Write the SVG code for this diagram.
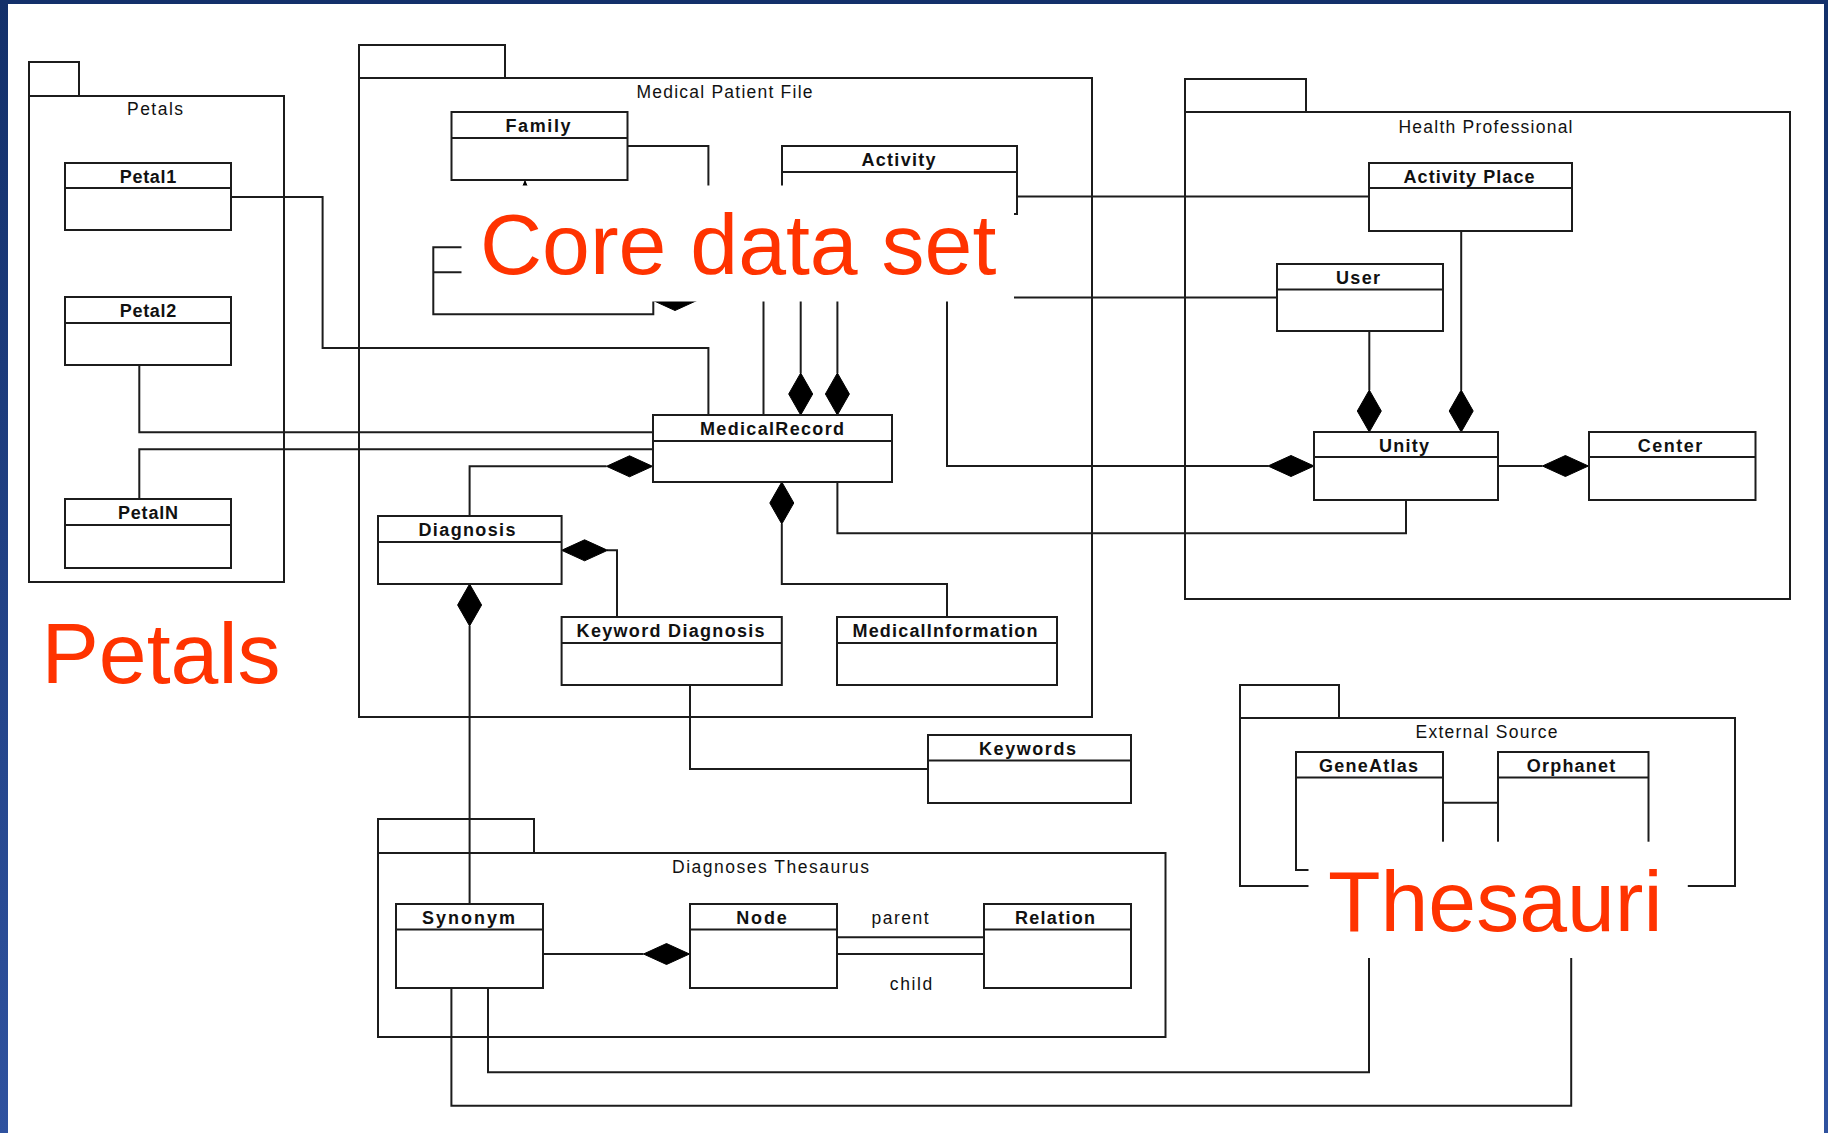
<svg xmlns="http://www.w3.org/2000/svg" xmlns:xlink="http://www.w3.org/1999/xlink" width="1828" height="1133" viewBox="0 0 1828 1133">
<defs>
<linearGradient id="bg" x1="0" y1="0" x2="0" y2="1">
<stop offset="0" stop-color="#13306a"/>
<stop offset="1" stop-color="#2f529f"/>
</linearGradient>
<path id="dv" d="M0,0 L12,21 L0,42 L-12,21 Z"/>
<path id="dh" d="M0,0 L23,-10.5 L46,0 L23,10.5 Z"/>
<style>
.ln{fill:none;stroke:#1c1c1c;stroke-width:2}
.bx{fill:#ffffff;stroke:#1c1c1c;stroke-width:2}
.pk{fill:none;stroke:#1c1c1c;stroke-width:2}
.dm{fill:#000000;stroke:#000000;stroke-width:1}
.cn{font-family:"Liberation Sans",Arial,sans-serif;font-size:18px;font-weight:bold;fill:#111111;text-anchor:middle}
.pl{font-family:"Liberation Sans",Arial,sans-serif;font-size:17.5px;fill:#111111;text-anchor:middle}
.big{font-family:"Liberation Sans",Arial,sans-serif;font-size:86px;fill:#ff3300}
.wh{fill:#ffffff;stroke:none}
</style>
</defs>
<rect x="0" y="0" width="1828" height="1133" fill="url(#bg)"/>
<rect x="8" y="4" width="1816" height="1129" fill="#ffffff"/>

<g id="pkg-petals">
<path class="pk" d="M29,96 V62 H79 V96"/>
<rect class="pk" x="29" y="96" width="255" height="486"/>
<text class="pl" x="155" y="115" textLength="56">Petals</text>
</g>
<g id="pkg-medical-patient-file">
<path class="pk" d="M359,78 V45 H505 V78"/>
<rect class="pk" x="359" y="78" width="733" height="639"/>
<text class="pl" x="724.5" y="98" textLength="176">Medical Patient File</text>
</g>
<g id="pkg-health-professional">
<path class="pk" d="M1185,112 V79 H1306 V112"/>
<rect class="pk" x="1185" y="112" width="605" height="487"/>
<text class="pl" x="1485.5" y="132.5" textLength="174">Health Professional</text>
</g>
<g id="pkg-diagnoses-thesaurus">
<path class="pk" d="M378,853 V819 H534 V853"/>
<rect class="pk" x="378" y="853" width="787.5" height="184"/>
<text class="pl" x="770.5" y="873" textLength="197">Diagnoses Thesaurus</text>
</g>
<g id="pkg-external-source">
<path class="pk" d="M1240,718 V685 H1339 V718"/>
<rect class="pk" x="1240" y="718" width="495" height="168"/>
<text class="pl" x="1486.5" y="738" textLength="142">External Source</text>
</g>

<g id="connectors">
<path class="ln" d="M231,197 H322.6 V348 H708.4 V415"/>
<path class="ln" d="M139.3,365 V432.3 H653"/>
<path class="ln" d="M139.3,499 V449.3 H653"/>
<path class="ln" d="M627.5,146 H708.4 V295"/>
<path class="ln" d="M525,182 V295"/>
<path class="dm" d="M525,181 L519.5,194 L530.5,194 Z"/>
<path class="ln" d="M1017,196.4 H1369"/>
<path class="ln" d="M1000,297.5 H1277"/>
<path class="ln" d="M470,247.3 H433.3 V314.3 H653.3 V292"/>
<path class="ln" d="M433.3,272.3 H470"/>
<use href="#dh" class="dm" x="652" y="300"/>
<path class="ln" d="M763.5,292 V415"/>
<path class="ln" d="M800.7,292 V373"/>
<use href="#dv" class="dm" x="800.7" y="373"/>
<path class="ln" d="M837.4,292 V373"/>
<use href="#dv" class="dm" x="837.4" y="373"/>
<path class="ln" d="M947,292 V466 H1268"/>
<use href="#dh" class="dm" x="1268" y="466"/>
<path class="ln" d="M837.4,482 V533.3 H1406 V500"/>
<path class="ln" d="M1498,466 H1542.4"/>
<use href="#dh" class="dm" x="1542.4" y="466"/>
<path class="ln" d="M1369.3,331 V390"/>
<use href="#dv" class="dm" x="1369.3" y="390"/>
<path class="ln" d="M1461.2,231 V390"/>
<use href="#dv" class="dm" x="1461.2" y="390"/>
<path class="ln" d="M606.5,466.3 H469.6 V516"/>
<use href="#dh" class="dm" x="606.5" y="466.3"/>
<path class="ln" d="M607,550.3 H617 V617"/>
<use href="#dh" class="dm" x="561.6" y="550.3"/>
<path class="ln" d="M781.8,524 V584 H947 V617"/>
<use href="#dv" class="dm" x="781.8" y="482"/>
<path class="ln" d="M469.6,626 V904"/>
<use href="#dv" class="dm" x="469.6" y="584"/>
<path class="ln" d="M690,685 V769 H928"/>
<path class="ln" d="M543,954 H643.5"/>
<use href="#dh" class="dm" x="643.5" y="954"/>
<path class="ln" d="M837,937.3 H984"/>
<path class="ln" d="M837,954 H984"/>
<path class="ln" d="M1443,802.7 H1498"/>
<path class="ln" d="M488,988 V1072.3 H1369 V950"/>
<path class="ln" d="M451.4,988 V1105.7 H1571.2 V950"/>
</g>

<g id="cls-petal1"><rect class="bx" x="65" y="163" width="166" height="67"/><path class="ln" d="M65,188 H231"/><text class="cn" x="148" y="182.7" textLength="56.6">Petal1</text></g>
<g id="cls-petal2"><rect class="bx" x="65" y="297" width="166" height="68"/><path class="ln" d="M65,323 H231"/><text class="cn" x="148" y="317" textLength="56.6">Petal2</text></g>
<g id="cls-petaln"><rect class="bx" x="65" y="499" width="166" height="69"/><path class="ln" d="M65,525 H231"/><text class="cn" x="148" y="519" textLength="60">PetalN</text></g>

<g id="cls-family"><rect class="bx" x="451.5" y="112" width="176" height="68"/><path class="ln" d="M451.5,138 H627.5"/><text class="cn" x="538" y="131.7" textLength="65">Family</text></g>
<g id="cls-activity"><rect class="bx" x="782" y="146" width="235" height="68"/><path class="ln" d="M782,172 H1017"/><text class="cn" x="898.5" y="165.7" textLength="74">Activity</text></g>
<g id="cls-medicalrecord"><rect class="bx" x="653" y="415" width="239" height="67"/><path class="ln" d="M653,441 H892"/><text class="cn" x="772" y="435" textLength="144">MedicalRecord</text></g>
<g id="cls-diagnosis"><rect class="bx" x="378" y="516" width="183.6" height="68"/><path class="ln" d="M378,542 H561.6"/><text class="cn" x="467" y="536" textLength="97">Diagnosis</text></g>
<g id="cls-keyword-diagnosis"><rect class="bx" x="561.6" y="617" width="220.2" height="68"/><path class="ln" d="M561.6,643 H781.8"/><text class="cn" x="670.6" y="637" textLength="188">Keyword Diagnosis</text></g>
<g id="cls-medicalinformation"><rect class="bx" x="837" y="617" width="220" height="68"/><path class="ln" d="M837,643 H1057"/><text class="cn" x="945" y="637" textLength="185">MedicalInformation</text></g>
<g id="cls-keywords"><rect class="bx" x="928" y="735" width="203" height="68"/><path class="ln" d="M928,760.5 H1131"/><text class="cn" x="1027.5" y="755" textLength="97">Keywords</text></g>

<g id="cls-activity-place"><rect class="bx" x="1369" y="163" width="203" height="68"/><path class="ln" d="M1369,188 H1572"/><text class="cn" x="1469" y="183" textLength="131">Activity Place</text></g>
<g id="cls-user"><rect class="bx" x="1277" y="264" width="166" height="67"/><path class="ln" d="M1277,289.5 H1443"/><text class="cn" x="1358" y="284" textLength="44">User</text></g>
<g id="cls-unity"><rect class="bx" x="1314" y="432" width="184" height="68"/><path class="ln" d="M1314,457 H1498"/><text class="cn" x="1404" y="452" textLength="50">Unity</text></g>
<g id="cls-center"><rect class="bx" x="1589" y="432" width="166.5" height="68"/><path class="ln" d="M1589,457 H1755.5"/><text class="cn" x="1670" y="452" textLength="64.5">Center</text></g>

<g id="cls-synonym"><rect class="bx" x="396" y="904" width="147" height="84"/><path class="ln" d="M396,929.5 H543"/><text class="cn" x="468.5" y="923.5" textLength="93">Synonym</text></g>
<g id="cls-node"><rect class="bx" x="690" y="904" width="147" height="84"/><path class="ln" d="M690,929.5 H837"/><text class="cn" x="761.5" y="923.5" textLength="50.5">Node</text></g>
<g id="cls-relation"><rect class="bx" x="984" y="904" width="147" height="84"/><path class="ln" d="M984,929.5 H1131"/><text class="cn" x="1055" y="923.5" textLength="80">Relation</text></g>
<text class="pl" x="900" y="924" textLength="57">parent</text>
<text class="pl" x="911" y="990" textLength="42.5">child</text>

<g id="cls-geneatlas"><rect class="bx" x="1296" y="752" width="147" height="118"/><path class="ln" d="M1296,777.5 H1443"/><text class="cn" x="1368.5" y="772" textLength="99">GeneAtlas</text></g>
<g id="cls-orphanet"><rect class="bx" x="1498" y="752" width="150.5" height="118"/><path class="ln" d="M1498,777.5 H1648.5"/><text class="cn" x="1571" y="772" textLength="88.5">Orphanet</text></g>

<g id="label-core">
<rect class="wh" x="461.5" y="185.5" width="552.5" height="116"/>
<text class="big" x="480" y="274.3">Core data set</text>
</g>
<g id="label-thesauri">
<rect class="wh" x="1308.5" y="841.7" width="379.3" height="116.3"/>
<text class="big" x="1328" y="930.7">Thesauri</text>
</g>
<g id="label-petals">
<text class="big" x="41.5" y="682.7">Petals</text>
</g>
</svg>
